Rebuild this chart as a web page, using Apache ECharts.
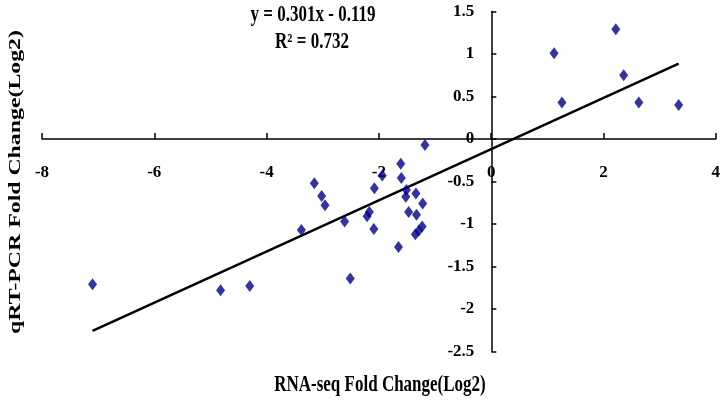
<!DOCTYPE html>
<html>
<head>
<meta charset="utf-8">
<script src="https://cdn.jsdelivr.net/npm/echarts@6/dist/echarts.min.js"></script>
<style>
html,body{margin:0;padding:0;background:#fff;}
#main{width:723px;height:404px;}
</style>
</head>
<body>
<div id="main"></div>
<script>
// RNA-seq vs qRT-PCR (log2 fold change)
var rnaSeq = [-7.10, -4.82, -4.30, -3.38, -3.15, -3.02, -2.96, -2.61, -2.51, -2.17,
              -2.21, -2.08, -2.09, -1.94, -1.61, -1.60, -1.65, -1.51, -1.52, -1.47,
              -1.34, -1.33, -1.22, -1.23, -1.29, -1.35, -1.18,
              1.12, 1.26, 2.22, 2.36, 2.63, 3.34];
var qPcr   = [-1.71, -1.78, -1.73, -1.07, -0.52, -0.67, -0.78, -0.97, -1.64, -0.86,
              -0.91, -0.58, -1.06, -0.43, -0.29, -0.46, -1.27, -0.60, -0.68, -0.86,
              -0.64, -0.89, -0.76, -1.03, -1.08, -1.12, -0.07,
              1.01, 0.43, 1.29, 0.75, 0.43, 0.40];
var slope = 0.301, intercept = -0.119;
var xTicks = [-8, -6, -4, -2, 0, 2, 4];
var yTicks = [-2.5, -2, -1.5, -1, -0.5, 0, 0.5, 1, 1.5];

var pts = [];
for (var i = 0; i < rnaSeq.length; i++) pts.push([rnaSeq[i], qPcr[i]]);
var xMin = Math.min.apply(null, rnaSeq), xMax = Math.max.apply(null, rnaSeq);
var trend = [[xMin, slope * xMin + intercept], [xMax, slope * xMax + intercept]];

var W = 723, H = 404;
var gl = 42, gr = 7, gt = 11.5, gb = 52.5;
var xLo = xTicks[0], xHi = xTicks[xTicks.length - 1];
var yLo = yTicks[0], yHi = yTicks[yTicks.length - 1];
// shift the axes so they cross at the origin (labels move with them)
var yOff = -(W - gl - gr) * (0 - xLo) / (xHi - xLo);
var xOff = -(H - gt - gb) * (0 - yLo) / (yHi - yLo);

var font = '"Liberation Serif","Times New Roman",serif';
var chart = echarts.init(document.getElementById('main'));
var option = {
    animation: false,
    grid: {left: gl, right: gr, top: gt, bottom: gb},
    xAxis: {
        type: 'value', min: xLo, max: xHi, interval: 2,
        position: 'bottom', offset: xOff,
        splitLine: {show: false},
        axisLine: {onZero: false, lineStyle: {color: '#000', width: 1.5}},
        axisTick: {inside: true, length: 6, lineStyle: {color: '#000', width: 1.5}},
        axisLabel: {margin: 25, color: '#000', fontFamily: font, fontWeight: 'bold', fontSize: 17}
    },
    yAxis: {
        type: 'value', min: yLo, max: yHi, interval: 0.5,
        position: 'left', offset: yOff,
        splitLine: {show: false},
        axisLine: {onZero: false, lineStyle: {color: '#000', width: 1.5}},
        axisTick: {inside: true, length: 5, lineStyle: {color: '#000', width: 1.5}},
        axisLabel: {margin: 17, color: '#000', fontFamily: font, fontWeight: 'bold', fontSize: 17}
    },
    graphic: [
        {type: 'text', x: 313, y: 15, scaleY: 1.3, style: {text: 'y = 0.301x - 0.119', align: 'center', verticalAlign: 'middle',
            font: 'bold 17px ' + font, fill: '#000'}},
        {type: 'text', x: 312, y: 42, scaleY: 1.3, style: {text: 'R² = 0.732', align: 'center', verticalAlign: 'middle',
            font: 'bold 17px ' + font, fill: '#000'}},
        {type: 'text', x: 380, y: 385, scaleY: 1.3, style: {text: 'RNA-seq Fold Change(Log2)', align: 'center', verticalAlign: 'middle',
            font: 'bold 17px ' + font, fill: '#000'}},
        {type: 'text', x: 16, y: 182, rotation: Math.PI / 2, scaleX: 1.4, style: {text: 'qRT-PCR Fold Change(Log2)', align: 'center', verticalAlign: 'middle',
            font: 'bold 17px ' + font, fill: '#000'}}
    ],
    series: [
        {
            type: 'scatter', symbol: 'diamond', symbolSize: [9, 12],
            itemStyle: {color: '#00008b'},
            data: pts, z: 3
        },
        {
            type: 'line', data: trend, symbol: 'none',
            lineStyle: {color: '#000', width: 2.5}, z: 2
        }
    ]
};
chart.setOption(option);
</script>
</body>
</html>
